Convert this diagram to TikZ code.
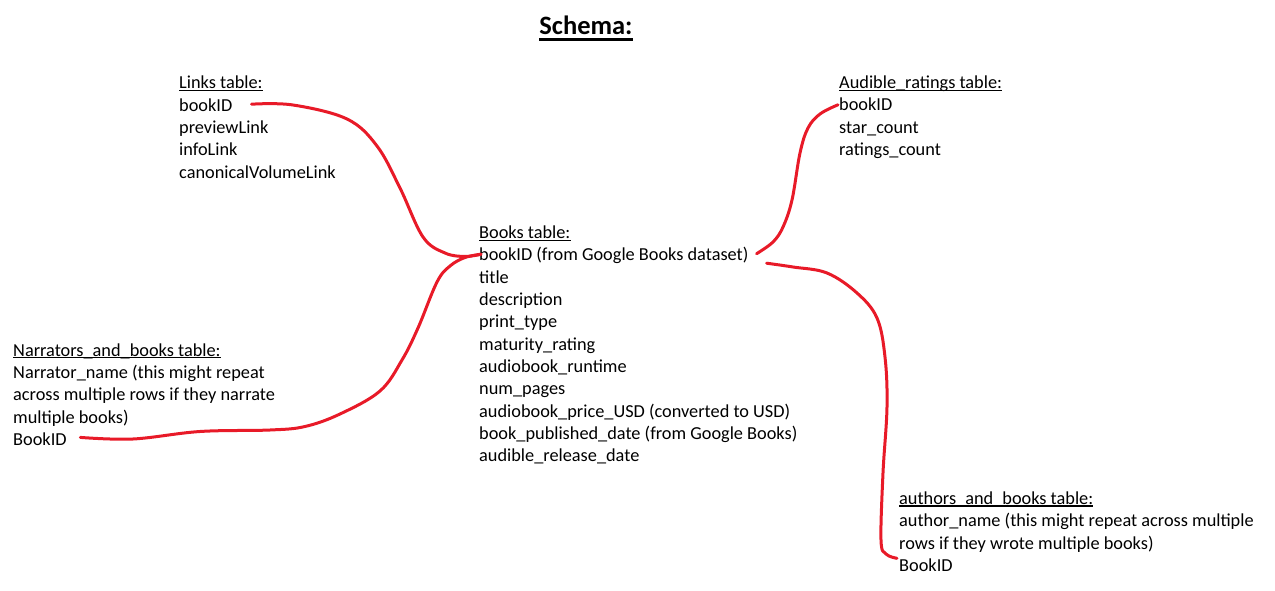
\documentclass[tikz,border=0pt]{standalone}
\usepackage{fontspec}
\setmainfont{Carlito}
\usetikzlibrary{calc}
\definecolor{pen}{RGB}{232,26,40}
\newlength\usdepth
\begin{document}
\settodepth{\usdepth}{\fontsize{18.3pt}{22pt}\selectfont\_}
\begin{tikzpicture}[x=1pt,y=-1pt,
  txt/.style={anchor=base west, inner sep=0pt, font=\fontsize{18.3pt}{22pt}\selectfont},
  ttl/.style={anchor=base, inner sep=0pt, font=\fontsize{26.5pt}{30pt}\selectfont\bfseries},
  uline/.style={line width=1.3pt},
  link/.style={draw=pen, line width=3pt, line cap=round, line join=round}]
\useasboundingbox (0,0) rectangle (1275,591);

% title
\node[ttl] (title) at (586,35) {Schema:};
\draw[line width=2.3pt] ([yshift=-4.5pt]title.base west) -- ([yshift=-4.5pt]title.base east);

% Links table
\node[txt] (lh) at (179,89) {Links table:};
\node[txt] (l1) at (179,111.2) {bookID};
\node[txt] (l2) at (179,133.6) {previewLink};
\node[txt] (l3) at (179,155.9) {infoLink};
\node[txt] (l4) at (179,178.3) {canonicalVolumeLink};

% Audible ratings table
\node[txt] (ah) at (839,88.5) {Audible\_ratings table:};
\node[txt] (a1) at (839,110.8) {bookID};
\node[txt] (a2) at (839,133.2) {star\_count};
\node[txt] (a3) at (839,155.5) {ratings\_count};

% Books table
\node[txt] (bh) at (479,238.4) {Books table:};
\node[txt] (b1) at (479,260.7) {bookID (from Google Books dataset)};
\node[txt] (b2) at (479,283.1) {title};
\node[txt] (b3) at (479,305.4) {description};
\node[txt] (b4) at (479,327.8) {print\_type};
\node[txt] (b5) at (479,350.1) {maturity\_rating};
\node[txt] (b6) at (479,372.5) {audiobook\_runtime};
\node[txt] (b7) at (479,394.8) {num\_pages};
\node[txt] (b8) at (479,417.2) {audiobook\_price\_USD (converted to USD)};
\node[txt] (b9) at (479,439.5) {book\_published\_date (from Google Books)};
\node[txt] (b10) at (479,461.9) {audible\_release\_date};

% Narrators and books table
\node[txt] (nh) at (13,356) {Narrators\_and\_books table:};
\node[txt] (n1) at (13,378.3) {Narrator\_name (this might repeat};
\node[txt] (n2) at (13,400.7) {across multiple rows if they narrate};
\node[txt] (n3) at (13,423) {multiple books)};
\node[txt] (n4) at (13,445.4) {BookID};

% authors and books table
\node[txt] (uh) at (899,504.3) {authors\_and\_books table:};
\node[txt] (u1) at (899,526.6) {author\_name (this might repeat across multiple};
\node[txt] (u2) at (899,549) {rows if they wrote multiple books)};
\node[txt] (u3) at (899,571.3) {BookID};

% underlines of the headers (laid over the underscores so that they merge)
\foreach \h in {lh,ah,bh,nh,uh}
  \draw[uline] ([yshift={0.65pt-\usdepth}]\h.base west) -- ([yshift={0.65pt-\usdepth}]\h.base east);

% connectors
\draw[link] plot[smooth, tension=0.6] coordinates {
  ($(l1.base east)+(19,-7)$) (293,105) (347,119) (377,146) (400,188)
  (423,237) (445,253) (465,256.5) ($(b1.base west)+(2,-6.5)$)};
\draw[link] plot[smooth, tension=0.6] coordinates {
  ($(n4.base east)+(13.5,-8)$) (133,439) (200,431.5) (270,430) (305,426.5)
  (340,414) (380,391) (402,360) (418,328) (437,282) (450,266) (465,257.5)
  ($(b1.base west)+(2,-6.5)$)};
\draw[link] plot[smooth, tension=0.6] coordinates {
  ($(b1.base east)+(8,-7)$) (773,242) (783,227) (792,200) (800,153)
  (808,128) (820,114) ($(a1.base west)+(-1,-6)$)};
\draw[link] plot[smooth, tension=0.6] coordinates {
  ($(b1.base east)+(18,2.5)$) (793,267) (827,273) (857,293) (877,318)
  (885,357) (887,407) (883,473) (881,540) (886,554)
  ($(u3.base west)+(-2,-13)$)};
\end{tikzpicture}
\end{document}
